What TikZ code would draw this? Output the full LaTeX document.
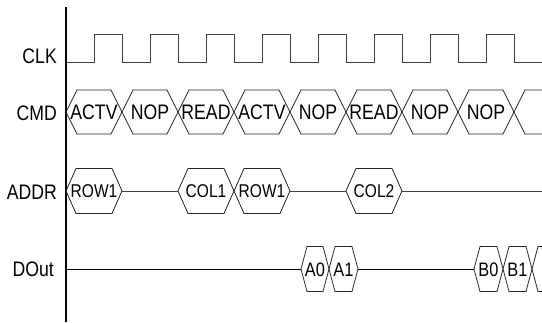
\documentclass[tikz,border=0pt]{standalone}
\usepackage{fontspec}
\setmainfont[FakeStretch=0.84]{Liberation Sans}
\tikzset{
  axisline/.style={black, line width=2pt},
  clkline/.style={black!75, line width=0.8pt, line join=miter},
  hexline/.style={black!85, line width=0.8pt, line join=miter},
  wire/.style={black!75, line width=0.8pt},
  doutwire/.style={black, line width=0.9pt},
  lab/.style={anchor=east, inner sep=0pt, font=\fontsize{21}{25}\selectfont},
  cmdtxt/.style={inner sep=0pt, font=\fontsize{21}{25}\selectfont},
  addrtxt/.style={inner sep=0pt, font=\fontsize{18.5}{22}\selectfont},
  doutxt/.style={inner sep=0pt, font=\fontsize{19.5}{23}\selectfont}
}
% name, x1, x2, yc, h, d, text style, text
\newcommand{\hexbox}[8]{%
  \draw[hexline] (#2,#4) coordinate (#1-L) -- (#2+#6,#4-#5) -- (#3-#6,#4-#5)
     -- (#3,#4) coordinate (#1-R) -- (#3-#6,#4+#5) -- (#2+#6,#4+#5) -- cycle;
  \node[#7] (#1) at ({(#2+#3)/2},#4+0.5) {#8};
}
\begin{document}
\begin{tikzpicture}[x=1pt,y=-1pt]
\useasboundingbox (0,0) rectangle (542,322);

% axis
\coordinate (axtop) at (66,7);
\coordinate (axbot) at (66,322);
\draw[axisline] (axtop) -- (axbot);

% labels
\node[lab] (lclk) at (57,56) {CLK};
\node[lab] (lcmd) at (57,113) {CMD};
\node[lab] (laddr) at (57,192) {ADDR};
\node[lab] (ldout) at (54,269.5) {DOut};

% clock
\draw[clkline] (67,62) -- (94,62)
  foreach \k in {0,...,7} { -- ({94+56*\k},62) -- ({94+56*\k},34) -- ({122+56*\k},34) -- ({122+56*\k},62) }
  -- (542,62);

% CMD bus
\hexbox{m1}{66}{122}{112}{22}{11}{cmdtxt}{ACTV}
\hexbox{m2}{122}{178}{112}{22}{11}{cmdtxt}{NOP}
\hexbox{m3}{178}{234}{112}{22}{11}{cmdtxt}{READ}
\hexbox{m4}{234}{290}{112}{22}{11}{cmdtxt}{ACTV}
\hexbox{m5}{290}{346}{112}{22}{11}{cmdtxt}{NOP}
\hexbox{m6}{346}{402}{112}{22}{11}{cmdtxt}{READ}
\hexbox{m7}{402}{458}{112}{22}{11}{cmdtxt}{NOP}
\hexbox{m8}{458}{514}{112}{22}{11}{cmdtxt}{NOP}
\draw[hexline] (543,90) -- (525,90) -- (m8-R) -- (525,134) -- (543,134);

% ADDR bus
\hexbox{r1}{66}{122}{191}{22.5}{10}{addrtxt}{ROW1}
\hexbox{c1}{178}{234}{191}{22.5}{10}{addrtxt}{COL1}
\hexbox{r2}{234}{290}{191}{22.5}{10}{addrtxt}{ROW1}
\hexbox{c2}{346}{402}{191}{22.5}{10}{addrtxt}{COL2}
\coordinate (addrend) at (543,191);
\draw[wire] (r1-R) -- (c1-L);
\draw[wire] (r2-R) -- (c2-L);
\draw[wire] (c2-R) -- (addrend);

% DOut bus
\coordinate (doutstart) at (67,269);
\hexbox{a0}{301}{329}{269}{22.5}{6}{doutxt}{A0}
\hexbox{a1}{329}{358}{269}{22.5}{6}{doutxt}{A1}
\hexbox{b0}{474}{503}{269}{22.5}{6}{doutxt}{B0}
\hexbox{b1}{503}{532}{269}{22.5}{6}{doutxt}{B1}
\draw[hexline] (543,246.5) -- (538,246.5) -- (b1-R) -- (538,291.5) -- (543,291.5);
\draw[doutwire] (doutstart) -- (a0-L);
\draw[doutwire] (a1-R) -- (b0-L);
\end{tikzpicture}
\end{document}
